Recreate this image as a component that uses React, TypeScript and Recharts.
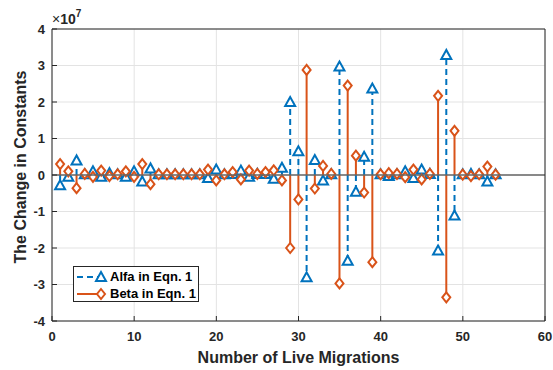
import React from 'react';
import {
  ComposedChart,
  Bar,
  XAxis,
  YAxis,
  CartesianGrid,
  ReferenceLine,
  Legend,
} from 'recharts';

const FONT = '"Liberation Sans", Arial, sans-serif';
const BLUE = '#0072BD';
const ORANGE = '#D95319';
const AXIS = '#262626';

// number of live migrations (x positions of the stems)
const migrations = [
  1, 2, 3, 4, 5, 6, 7, 8, 9, 10, 11, 12, 13, 14, 15, 16, 17, 18, 19, 20, 21, 22, 23, 24, 25, 26, 27,
  28, 29, 30, 31, 32, 33, 34, 35, 36, 37, 38, 39, 40, 41, 42, 43, 44, 45, 46, 47, 48, 49, 50, 51, 52,
  53, 54,
];

// values in units of 1e7
const alfa = [
  -0.28, -0.05, 0.4, 0.02, 0.1, -0.05, 0.05, 0.02, -0.05, 0.1, -0.18, 0.18, 0.02, 0.02, 0.02, 0.02,
  0.02, 0.02, -0.08, 0.15, 0.02, 0.03, 0.12, -0.05, 0.03, 0.03, -0.1, 0.2, 2.0, 0.65, -2.8, 0.41,
  -0.15, 0.02, 2.97, -2.35, -0.46, 0.5, 2.37, 0.02, -0.03, 0.02, 0.1, -0.08, 0.15, 0.03, -2.07, 3.29,
  -1.11, 0.02, 0.03, 0.02, -0.18, 0.02,
];

const beta = [
  0.3, 0.1, -0.36, 0.03, -0.05, 0.12, -0.03, 0.02, 0.1, -0.05, 0.3, -0.25, 0.02, 0.02, 0.02, 0.02,
  0.02, 0.02, 0.15, -0.15, 0.02, 0.08, -0.12, 0.12, 0.03, 0.08, 0.13, -0.15, -2.0, -0.67, 2.88,
  -0.37, 0.25, 0.03, -2.97, 2.45, 0.53, -0.48, -2.39, 0.02, 0.05, 0.03, -0.06, 0.15, -0.12, 0.03,
  2.17, -3.35, 1.21, 0.01, -0.03, 0.02, 0.23, 0.01,
];

const xTicks = [0, 10, 20, 30, 40, 50, 60];
const yTicks = [-4, -3, -2, -1, 0, 1, 2, 3, 4];

const rows = migrations.map((m, i) => ({ m, alfa: alfa[i], beta: beta[i] }));

// stem ends: the tip is the end farther from the baseline
const stemEnds = (props: any, key: string) => {
  const { x, y, width, height, payload } = props;
  const cx = x + width / 2;
  const top = Math.min(y, y + height);
  const bottom = Math.max(y, y + height);
  const positive = payload[key] >= 0;
  return { cx, tip: positive ? top : bottom, base: positive ? bottom : top };
};

const AlfaStem = (props: any) => {
  const { cx, tip, base } = stemEnds(props, 'alfa');
  return (
    <g>
      <line x1={cx} y1={base} x2={cx} y2={tip} stroke={BLUE} strokeWidth={2} strokeDasharray="6 4" />
      <polygon
        points={`${cx},${tip - 5} ${cx - 5},${tip + 4} ${cx + 5},${tip + 4}`}
        fill="#fff"
        stroke={BLUE}
        strokeWidth={2}
      />
    </g>
  );
};

const BetaStem = (props: any) => {
  const { cx, tip, base } = stemEnds(props, 'beta');
  return (
    <g>
      <line x1={cx} y1={base} x2={cx} y2={tip} stroke={ORANGE} strokeWidth={2} />
      <polygon
        points={`${cx},${tip - 5} ${cx + 4},${tip} ${cx},${tip + 5} ${cx - 4},${tip}`}
        fill="#fff"
        stroke={ORANGE}
        strokeWidth={2}
      />
    </g>
  );
};

const renderLegend = () => (
  <div
    style={{
      border: `1px solid ${AXIS}`,
      background: '#fff',
      width: 126,
      height: 36,
      boxSizing: 'border-box',
      padding: '1px 0 0 2px',
      fontFamily: FONT,
      fontWeight: 'bold',
      fontSize: 13,
      color: '#000',
    }}
  >
    <div style={{ display: 'flex', alignItems: 'center', height: 17 }}>
      <svg width={34} height={14}>
        <line x1={1} y1={7} x2={25} y2={7} stroke={BLUE} strokeWidth={2} strokeDasharray="6 4" />
        <polygon points="25,2 20,11 30,11" fill="#fff" stroke={BLUE} strokeWidth={2} />
      </svg>
      <span>Alfa in Eqn. 1</span>
    </div>
    <div style={{ display: 'flex', alignItems: 'center', height: 17 }}>
      <svg width={34} height={14}>
        <line x1={1} y1={7} x2={25} y2={7} stroke={ORANGE} strokeWidth={2} />
        <polygon points="25,2 29,7 25,12 21,7" fill="#fff" stroke={ORANGE} strokeWidth={2} />
      </svg>
      <span>Beta in Eqn. 1</span>
    </div>
  </div>
);

const tickStyle = { fill: AXIS, fontSize: 13, fontWeight: 'bold', fontFamily: FONT };

export default function App() {
  return (
    <div
      style={{
        position: 'absolute',
        left: 0,
        top: 0,
        width: 553,
        height: 370,
        background: '#fff',
        fontFamily: FONT,
      }}
    >
      <ComposedChart
        width={553}
        height={370}
        data={rows}
        margin={{ top: 28, right: 7, bottom: 0, left: 0 }}
        barSize={2}
        barGap={-2}
      >
        <CartesianGrid stroke="#e3e3e3" strokeWidth={1} />
        <XAxis
          dataKey="m"
          type="number"
          domain={[0, 60]}
          ticks={xTicks}
          interval={0}
          height={49}
          tickSize={-5}
          tickMargin={16}
          axisLine={{ stroke: AXIS }}
          tickLine={{ stroke: AXIS }}
          tick={tickStyle}
          label={{
            value: 'Number of Live Migrations',
            position: 'insideBottom',
            offset: 7,
            fill: AXIS,
            fontSize: 16,
            fontWeight: 'bold',
            fontFamily: FONT,
          }}
        />
        <XAxis
          xAxisId="top"
          orientation="top"
          dataKey="m"
          type="number"
          domain={[0, 60]}
          ticks={xTicks}
          interval={0}
          height={1}
          tickSize={-5}
          axisLine={{ stroke: AXIS }}
          tickLine={{ stroke: AXIS }}
          tick={false}
        />
        <YAxis
          type="number"
          domain={[-4, 4]}
          ticks={yTicks}
          interval={0}
          width={52}
          tickSize={-5}
          tickMargin={12}
          axisLine={{ stroke: AXIS }}
          tickLine={{ stroke: AXIS }}
          tick={tickStyle}
        />
        <YAxis
          yAxisId="right"
          orientation="right"
          type="number"
          domain={[-4, 4]}
          ticks={yTicks}
          interval={0}
          width={1}
          tickSize={-5}
          axisLine={{ stroke: AXIS }}
          tickLine={{ stroke: AXIS }}
          tick={false}
        />
        <ReferenceLine y={0} stroke="#666" strokeWidth={1.5} />
        <Bar dataKey="alfa" name="Alfa in Eqn. 1" shape={AlfaStem} isAnimationActive={false} />
        <Bar dataKey="beta" name="Beta in Eqn. 1" shape={BetaStem} isAnimationActive={false} />
        <Legend
          layout="vertical"
          align="center"
          verticalAlign="middle"
          content={renderLegend}
          wrapperStyle={{ left: 73, top: 266, width: 126 }}
        />
      </ComposedChart>
      <div
        style={{
          position: 'absolute',
          left: 52,
          top: 12,
          fontSize: 14,
          lineHeight: '14px',
          color: AXIS,
          whiteSpace: 'nowrap',
        }}
      >
        <span>×</span>
        <span style={{ fontWeight: 'bold' }}>10</span>
        <span style={{ fontWeight: 'bold', fontSize: 10, position: 'relative', top: -7 }}>7</span>
      </div>
      <div
        style={{
          position: 'absolute',
          left: 21,
          top: 167,
          transform: 'translate(-50%, -50%) rotate(-90deg)',
          fontSize: 16,
          fontWeight: 'bold',
          color: AXIS,
          whiteSpace: 'nowrap',
        }}
      >
        The Change in Constants
      </div>
    </div>
  );
}
